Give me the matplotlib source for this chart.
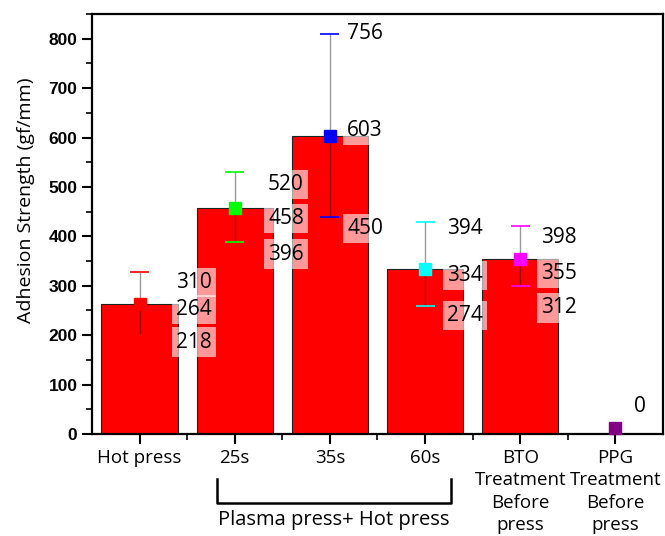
import matplotlib
matplotlib.use("Agg")
import matplotlib.pyplot as plt
import matplotlib.transforms as mtransforms
from matplotlib.ticker import MultipleLocator, FixedLocator

# data
groups = ["Hot press", "25s", "35s", "60s", "BTO\nTreatment\nBefore\npress",
          "PPG\nTreatment\nBefore\npress"]
means = [264, 458, 603, 334, 355, 0]
err_low = [200, 388, 440, 260, 300, None]
err_high = [328, 530, 810, 430, 420, None]
marker_colors = ["#ff0000", "#00ff00", "#0000ff", "#00ffff", "#ff00ff", "#800080"]
labels = [["310", "264", "218"], ["520", "458", "396"], ["756", "603", "450"],
          ["394", "334", "274"], ["398", "355", "312"], ["0"]]

# where the value labels sit (layout only)
label_x = [0.38, 1.35, 2.18, 3.23, 4.22, 5.19]
label_y = [[307, 252, 186], [505, 436, 364], [810, 614, 416],
           [416, 321, 240], [398, 325, 255], [55]]

body_font = ["Open Sans", "DejaVu Sans"]

fig = plt.figure(figsize=(6.65, 5.36), dpi=100)
ax = fig.add_axes([0.1383, 0.1903, 0.8587, 0.7836])

x = list(range(len(groups)))
ax.bar(x, means, width=0.8, color="#ff0000", edgecolor="#202020", linewidth=0.8, zorder=2)

for i in x:
    if err_low[i] is not None:
        ax.vlines(i, err_low[i], err_high[i], color="black", alpha=0.4, lw=1.0, zorder=3)
        ax.hlines([err_low[i], err_high[i]], i - 0.1, i + 0.1, color=marker_colors[i], lw=1.2, zorder=3)
    # square marker for the mean; PPG marker sits on the axis line
    off = mtransforms.offset_copy(ax.transData, fig=fig, x=0, y=6 if means[i] == 0 else 0, units="dots")
    ax.plot(i, means[i], "s", ms=9, color=marker_colors[i], transform=off, clip_on=False, zorder=4)
    for t, yy in zip(labels[i], label_y[i]):
        ax.text(label_x[i], yy, t, ha="left", va="center", fontsize=15, family=body_font, zorder=5,
                bbox=dict(boxstyle="square,pad=0.2", fc="white", ec="none", alpha=0.6) if means[i] else None)

ax.set_xlim(-0.5, 5.5)
ax.set_ylim(0, 850)
ax.set_xticks(x)
ax.set_xticklabels(groups, family=body_font, fontsize=13.5, linespacing=1.3)
ax.xaxis.set_minor_locator(FixedLocator([i + 0.5 for i in range(5)]))
ax.yaxis.set_major_locator(MultipleLocator(100))
ax.yaxis.set_minor_locator(MultipleLocator(50))
ax.tick_params(axis="y", labelfontfamily="Liberation Sans", labelsize=12.5)
for lbl in ax.get_yticklabels():
    lbl.set_fontweight("bold")

ax.tick_params(axis="both", which="major", direction="out", length=7, width=1.5)
ax.tick_params(axis="both", which="minor", direction="out", length=4, width=1.2)
ax.tick_params(axis="x", pad=4)
for s in ax.spines.values():
    s.set_linewidth(1.6)

ax.set_ylabel("Adhesion Strength (gf/mm)", family=body_font, fontsize=14)
ax.yaxis.set_label_coords(-0.10, 0.557)

# bracket under the plasma groups
tr = mtransforms.blended_transform_factory(ax.transData, ax.transAxes)
ax.plot([0.81, 0.81, 3.27, 3.27], [-0.107, -0.164, -0.164, -0.107], color="black", lw=1.8,
        transform=tr, clip_on=False)
ax.text(2.04, -0.205, "Plasma press+ Hot press", transform=tr, ha="center", va="center",
        family=body_font, fontsize=14.5)

fig.savefig("out.png", dpi=100)
